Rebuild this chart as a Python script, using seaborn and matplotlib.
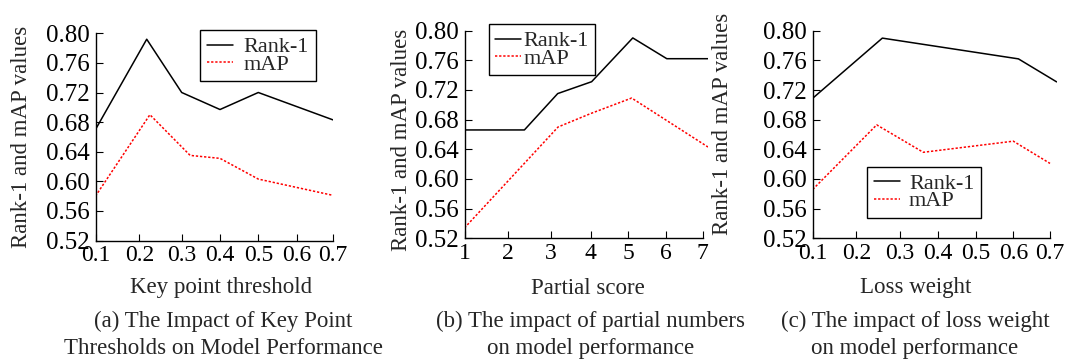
import numpy as np
import pandas as pd
import matplotlib
matplotlib.use("Agg")
import matplotlib.pyplot as plt
import seaborn as sns

# ---------------- data ----------------
series_names = ["Rank-1", "mAP"]

kp_rank1_x = [0.1, 0.2175, 0.3, 0.4, 0.5, 0.7]
kp_rank1_y = [0.670, 0.792, 0.720, 0.697, 0.720, 0.683]
kp_map_x = [0.1, 0.225, 0.322, 0.4, 0.5, 0.7]
kp_map_y = [0.580, 0.690, 0.635, 0.631, 0.603, 0.581]

ps_rank1_x = [1, 2.39, 3.18, 4.03, 5.12, 6.03, 7.15]
ps_rank1_y = [0.666, 0.666, 0.715, 0.731, 0.790, 0.762, 0.762]
ps_map_x = [1, 3.19, 4.0, 5.09, 7.15]
ps_map_y = [0.534, 0.670, 0.688, 0.709, 0.643]

lw_rank1_x = [0.1, 0.26, 0.614, 0.718]
lw_rank1_y = [0.709, 0.790, 0.762, 0.731]
lw_map_x = [0.1, 0.247, 0.362, 0.6, 0.7]
lw_map_y = [0.586, 0.673, 0.636, 0.651, 0.621]

y_ticks = [0.52, 0.56, 0.60, 0.64, 0.68, 0.72, 0.76, 0.80]
y_tick_labels = ["0.52", "0.56", "0.60", "0.64", "0.68", "0.72", "0.76", "0.80"]
kp_ticks = [0.1, 0.2, 0.3, 0.4, 0.5, 0.6, 0.7]
kp_tick_labels = ["0.1", "0.2", "0.3", "0.4", "0.5", "0.6", "0.7"]
ps_ticks = [1, 2, 3, 4, 5, 6, 7]
ps_tick_labels = ["1", "2", "3", "4", "5", "6", "7"]
lw_ticks = [0.1, 0.2, 0.3, 0.4, 0.5, 0.6, 0.7]
lw_tick_labels = ["0.1", "0.2", "0.3", "0.4", "0.5", "0.6", "0.7"]

y_label = "Rank-1 and mAP values"
x_labels = ["Key point threshold", "Partial score", "Loss weight"]
captions = [
    ("(a) The Impact of Key Point", "Thresholds on Model Performance"),
    ("(b) The impact of partial numbers", "on model performance"),
    ("(c) The impact of loss weight", "on model performance"),
]

# ---------------- layout (pixels in a 1067x361 canvas) ----------------
W, H = 1067, 361
FS = 16.5        # axis labels / captions
FS_YTICK = 18    # y tick labels
FS_XTICK = 17    # x tick labels
FS_LEG = 16      # legend

panels = [
    dict(rx=kp_rank1_x, ry=kp_rank1_y, mx=kp_map_x, my=kp_map_y,
         ticks=kp_ticks, tlabels=kp_tick_labels, xlim=(0.1, 0.7),
         warp_v=[0.1, 0.2, 0.3, 0.4, 0.5, 0.6, 0.7],
         warp_p=[95.5, 139.3, 181.7, 220.0, 258.3, 296.7, 333.0],
         box=(95.5, 333.0, 33.3, 240.5),
         ylab=(21.2, 137), xlab=(221, 288), cap_x=223,
         leg=(258, 55.7), htp=0.48),
    dict(rx=ps_rank1_x, ry=ps_rank1_y, mx=ps_map_x, my=ps_map_y,
         ticks=ps_ticks, tlabels=ps_tick_labels, xlim=(1, 7.15),
         warp_v=[1, 2, 3, 4, 5, 6, 7, 7.15],
         warp_p=[464.5, 507.7, 550.5, 590.5, 628.3, 665.7, 702.5, 708.0],
         box=(464.5, 708.0, 30.5, 238.3),
         ylab=(401.2, 140), xlab=(588, 288), cap_x=591,
         leg=(542, 49.7), htp=0.1),
    dict(rx=lw_rank1_x, ry=lw_rank1_y, mx=lw_map_x, my=lw_map_y,
         ticks=lw_ticks, tlabels=lw_tick_labels, xlim=(0.1, 0.718),
         warp_v=[0.1, 0.2, 0.3, 0.4, 0.5, 0.6, 0.7, 0.718],
         warp_p=[812.8, 856.3, 899.7, 937.7, 975.7, 1013.3, 1050.0, 1056.6],
         box=(812.8, 1056.6, 30.7, 238.3),
         ylab=(722.2, 124), xlab=(915.7, 288), cap_x=915,
         leg=(924, 192.5), htp=0.42),
]

sns.set_style("ticks")
plt.rcParams["font.family"] = ["Liberation Serif", "DejaVu Serif"]
plt.rcParams["font.size"] = FS

fig = plt.figure(figsize=(W / 100, H / 100), dpi=100)

palette = {"Rank-1": "#000000", "mAP": "#ff0000"}
dashes = {"Rank-1": "", "mAP": (1.5, 1.2)}

for i, p in enumerate(panels):
    l, r, t, b = p["box"]
    ax = fig.add_axes([l / W, (H - b) / H, (r - l) / W, (b - t) / H])

    wv = np.array(p["warp_v"], dtype=float)
    wp = np.array(p["warp_p"], dtype=float)

    def fwd(x, wv=wv, wp=wp):
        return np.interp(x, wv, wp)

    def inv(x, wv=wv, wp=wp):
        return np.interp(x, wp, wv)

    ax.set_xscale("function", functions=(fwd, inv))

    df = pd.concat([
        pd.DataFrame({"x": p["rx"], "y": p["ry"], "s": series_names[0]}),
        pd.DataFrame({"x": p["mx"], "y": p["my"], "s": series_names[1]}),
    ], ignore_index=True)

    sns.lineplot(data=df, x="x", y="y", hue="s", style="s",
                 palette=palette, dashes=dashes, linewidth=1.1,
                 estimator=None, sort=False, legend=False, ax=ax)

    ax.set_xlim(*p["xlim"])
    ax.set_ylim(0.52, 0.80)
    ax.set_xticks(p["ticks"])
    ax.set_xticklabels(p["tlabels"])
    ax.set_yticks(y_ticks)
    ax.set_yticklabels(y_tick_labels)
    ax.minorticks_off()

    sns.despine(ax=ax)
    for s in ("left", "bottom"):
        ax.spines[s].set_linewidth(1.0)
        ax.spines[s].set_color("black")
    ax.spines["bottom"].set_bounds(p["ticks"][0], p["ticks"][-1])

    ax.tick_params(axis="both", direction="in", length=5, width=0.8,
                   colors="black")
    ax.tick_params(axis="x", pad=3.3, labelsize=FS_XTICK)
    ax.tick_params(axis="y", pad=4.0, labelsize=FS_YTICK)

    # axis labels
    ax.set_ylabel(y_label, fontsize=FS)
    ax.yaxis.label.set(va="center", ha="center")
    ax.yaxis.set_label_coords((p["ylab"][0] - l) / (r - l),
                              (b - p["ylab"][1]) / (b - t))
    ax.set_xlabel(x_labels[i], fontsize=FS)
    ax.xaxis.label.set(va="center", ha="center")
    ax.xaxis.set_label_coords((p["xlab"][0] - l) / (r - l),
                              (b - p["xlab"][1]) / (b - t))

    # legend
    handles = ax.get_lines()[:2]
    leg = ax.legend(handles, series_names, loc="center",
                    bbox_to_anchor=(p["leg"][0] / W, 1 - p["leg"][1] / H),
                    bbox_transform=fig.transFigure, frameon=True,
                    fancybox=False, edgecolor="black", framealpha=1,
                    borderpad=0.3, labelspacing=-0.15, handlelength=1.17,
                    handletextpad=p["htp"], borderaxespad=0, fontsize=FS_LEG)
    leg.get_frame().set_linewidth(1.0)

    # caption
    cap1, cap2 = captions[i]
    fig.text(p["cap_x"] / W, 1 - 321.7 / H, cap1, ha="center", va="center",
             fontsize=FS)
    fig.text(p["cap_x"] / W, 1 - 348.3 / H, cap2, ha="center", va="center",
             fontsize=FS)

fig.savefig("out.png", dpi=100)
